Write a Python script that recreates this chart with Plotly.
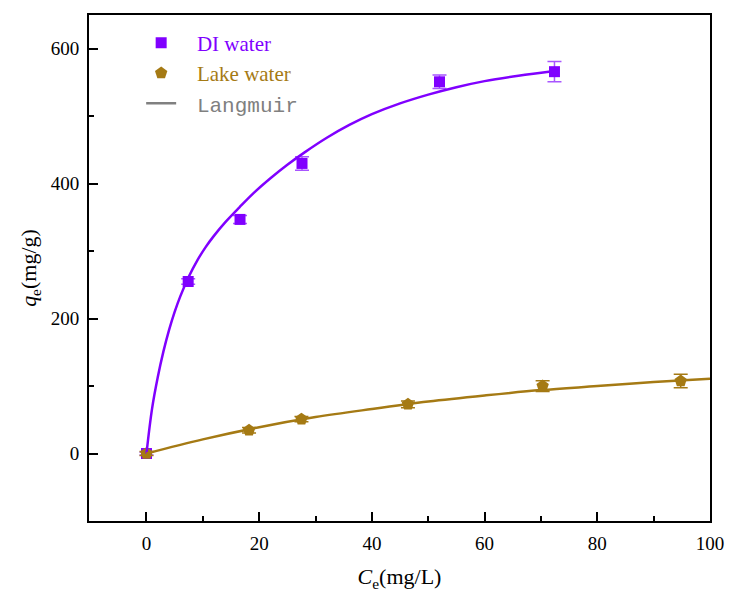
import plotly.graph_objects as go

# Measured data
di_ce = [0, 7.4, 16.6, 27.6, 52.0, 72.4]
di_qe = [0, 255, 347, 430, 551, 566]
di_err = [2, 4, 6, 10, 10, 15]

lake_ce = [0, 18.2, 27.5, 46.4, 70.3, 94.8]
lake_qe = [0, 34.5, 51, 73, 100, 107.5]
lake_err = [3, 4, 4, 5, 8, 10]

# Langmuir fit curves
di_fit_ce = [0, 1, 2, 3, 4, 5, 6, 7.5, 9, 10.5, 12, 14, 16.5, 19, 22, 25, 28, 32, 36, 40, 45, 50, 55, 60, 66, 72.4]
di_fit_qe = [0, 67, 113, 151, 183, 210, 233, 262, 286, 306, 323, 343, 365, 386, 408, 428, 446, 468, 487, 503, 519, 532, 543, 552, 560, 567]

lake_fit_ce = [0, 10, 20, 30, 40, 50, 60, 70, 80, 90, 100]
lake_fit_qe = [0, 21, 39, 54, 66, 77, 86, 94, 100, 106, 111]

x_ticks = [0, 20, 40, 60, 80, 100]
x_minor = [10, 30, 50, 70, 90]
y_ticks = [0, 200, 400, 600]
y_minor = [100, 300, 500]

PURPLE = "#8000FF"
PURPLE_LIGHT = "#A855FF"
BROWN = "#A57A14"
GRAY = "#808080"
FONT = "Liberation Serif, Times New Roman, serif"
PAD = "&nbsp;&nbsp;&nbsp;"

fig = go.Figure()

fig.add_trace(go.Scatter(
    x=di_ce, y=di_qe, mode="markers",
    name=f"{PAD}<span style='color:{PURPLE}'>DI water</span>",
    marker=dict(symbol="square", size=11, color=PURPLE),
    error_y=dict(type="data", array=di_err, color=PURPLE_LIGHT, thickness=1.5, width=7),
))
fig.add_trace(go.Scatter(
    x=lake_ce, y=lake_qe, mode="markers",
    name=f"{PAD}<span style='color:{BROWN}'>Lake water</span>",
    marker=dict(symbol="pentagon", size=13, color=BROWN),
    error_y=dict(type="data", array=lake_err, color=BROWN, thickness=1.5, width=7),
))
fig.add_trace(go.Scatter(
    x=di_fit_ce, y=di_fit_qe, mode="lines", showlegend=False,
    line=dict(color=PURPLE, width=2.5, shape="spline", smoothing=1.0),
))
fig.add_trace(go.Scatter(
    x=lake_fit_ce, y=lake_fit_qe, mode="lines", showlegend=False,
    line=dict(color=BROWN, width=2.5, shape="spline", smoothing=1.0),
))
fig.add_trace(go.Scatter(
    x=[None], y=[None], mode="lines",
    name=f"{PAD}<span style='color:{GRAY};font-family:Liberation Mono'>Langmuir</span>",
    line=dict(color=GRAY, width=2.5),
))

axis_common = dict(
    showline=True, linecolor="black", linewidth=2, mirror=True,
    ticks="inside", ticklen=9, tickwidth=1.5, tickcolor="black",
    showgrid=False, zeroline=False,
    tickfont=dict(family=FONT, size=19, color="black"),
)

fig.update_xaxes(
    range=[-10.2, 100], tickvals=x_ticks,
    minor=dict(tickvals=x_minor, ticks="inside", ticklen=5, tickwidth=1.5, tickcolor="black"),
    title=dict(text="<i>C</i><sub>e</sub>(mg/L)", font=dict(family=FONT, size=22, color="black"), standoff=16),
    ticklabelstandoff=4,
    **axis_common,
)
fig.update_yaxes(
    range=[-100, 650], tickvals=y_ticks,
    minor=dict(tickvals=y_minor, ticks="inside", ticklen=5, tickwidth=1.5, tickcolor="black"),
    title=dict(text="<i>q</i><sub>e</sub>(mg/g)", font=dict(family=FONT, size=22, color="black"), standoff=8),
    ticklabelstandoff=4,
    **axis_common,
)

fig.update_layout(
    width=736, height=597,
    margin=dict(l=89, r=18, t=15, b=75),
    plot_bgcolor="white", paper_bgcolor="white",
    font=dict(family=FONT),
    legend=dict(x=0.084, y=0.985, xanchor="left", yanchor="top",
                bgcolor="rgba(0,0,0,0)", font=dict(family=FONT, size=21),
                itemwidth=30, tracegroupgap=0),
)

fig.write_html("out.html")
